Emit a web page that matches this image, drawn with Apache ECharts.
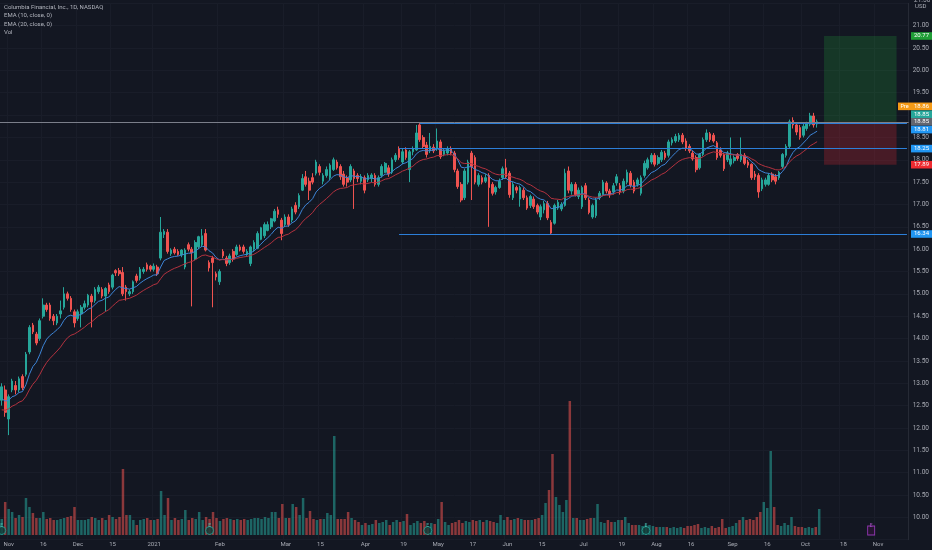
<!DOCTYPE html>
<html>
<head>
<meta charset="utf-8">
<script src="https://cdn.jsdelivr.net/npm/echarts@6/dist/echarts.min.js"></script>
<style>
html, body { margin: 0; padding: 0; background: #131722; }
#chart { width: 932px; height: 550px; }
</style>
</head>
<body>
<div id="chart"></div>
<script>
// CLBK daily bars, [open, close, low, high]; first bar = 29 Oct 2020
var candles = [
  [12.62,12.92,12.5,13.0],[12.85,12.35,12.25,12.95],[12.2,12.7,11.84,12.75],[12.85,13.05,12.8,13.1],[12.95,12.85,12.75,13.05],[12.85,13.1,12.8,13.15],
  [13.15,12.9,12.85,13.2],[13.2,13.65,13.15,13.7],[13.7,14.25,13.65,14.3],[14.3,14.15,14.1,14.35],[14.1,13.9,13.85,14.15],[14.0,14.4,13.95,14.45],
  [14.5,14.75,14.45,14.9],[14.75,14.65,14.6,14.8],[14.75,14.45,14.4,14.8],[14.5,14.4,14.3,14.55],[14.35,14.5,14.3,14.55],[14.55,14.62,14.45,14.85],
  [14.7,15.0,14.65,15.15],[15.0,14.9,14.85,15.05],[14.9,14.65,14.6,14.95],[14.6,14.35,14.25,14.65],[14.45,14.6,14.4,14.65],[14.55,14.7,14.25,14.75],
  [14.7,14.78,14.65,14.85],[14.75,14.97,14.7,15.0],[14.95,14.82,14.25,15.0],[14.85,15.1,14.8,15.15],[15.05,15.15,15.0,15.2],[15.1,14.95,14.9,15.15],
  [14.95,15.12,14.6,15.15],[15.2,15.05,15.0,15.25],[15.15,15.42,15.1,15.45],[15.52,15.47,15.4,15.55],[15.52,15.45,15.4,15.58],[15.48,15.0,14.95,15.6],
  [15.15,15.05,14.85,15.2],[15.0,15.05,14.95,15.1],[15.05,15.27,15.0,15.3],[15.4,15.3,15.25,15.45],[15.35,15.55,15.3,15.6],[15.5,15.55,15.45,15.6],
  [15.65,15.55,15.5,15.7],[15.62,15.55,15.5,15.65],[15.55,15.62,15.5,15.68],[15.6,15.45,15.4,15.65],[15.8,16.38,15.75,16.72],[16.33,16.4,16.25,16.45],
  [16.38,15.95,15.9,16.45],[15.9,15.98,15.85,16.02],[16.0,15.92,15.88,16.05],[15.95,15.88,15.85,16.0],[15.87,15.98,15.82,16.0],[15.6,15.98,15.55,16.02],
  [16.1,16.0,15.95,16.15],[16.0,15.92,14.72,16.05],[15.78,16.15,15.75,16.2],[16.05,16.28,16.0,16.3],[16.1,16.3,16.05,16.45],[16.35,15.98,15.95,16.45],
  [15.7,15.58,15.5,15.75],[15.8,15.7,14.7,15.85],[15.45,15.38,15.3,15.5],[15.27,15.5,15.2,15.55],[15.95,15.85,15.8,16.0],[15.8,15.68,15.62,15.85],
  [15.7,15.85,15.65,15.9],[15.95,15.78,15.72,16.0],[15.88,16.05,15.85,16.1],[16.05,15.98,15.95,16.1],[16.05,15.95,15.9,16.1],[15.88,15.95,15.85,16.0],
  [15.68,16.05,15.62,16.08],[16.0,16.15,15.95,16.2],[16.02,16.35,16.0,16.4],[16.22,16.48,16.2,16.5],[16.3,16.55,16.25,16.6],[16.42,16.55,16.4,16.62],
  [16.5,16.68,16.45,16.7],[16.63,16.85,16.6,16.9],[16.88,16.78,16.7,16.95],[16.65,16.35,16.2,16.7],[16.55,16.72,16.5,16.78],[16.72,16.55,16.5,16.78],
  [16.65,16.9,16.6,16.95],[16.98,16.83,16.78,17.05],[16.95,17.2,16.9,17.25],[17.32,17.58,17.3,17.68],[17.62,17.45,17.4,17.75],[17.52,17.32,17.1,17.6],
  [17.6,17.5,17.45,17.7],[17.7,17.95,17.65,18.0],[17.85,17.72,17.65,17.9],[17.52,17.65,17.45,17.7],[17.65,17.78,17.6,17.85],[17.6,17.88,17.55,17.92],
  [17.78,18.0,17.75,18.05],[17.95,17.82,17.78,18.0],[17.85,17.62,17.55,17.9],[17.68,17.45,17.4,17.75],[17.6,17.5,17.4,17.65],[17.55,17.85,17.5,17.9],
  [17.75,17.58,16.9,17.8],[17.65,17.58,17.5,17.7],[17.52,17.62,17.45,17.68],[17.6,17.32,17.25,17.65],[17.55,17.65,17.5,17.7],[17.58,17.66,17.5,17.7],
  [17.65,17.45,17.4,17.7],[17.45,17.6,17.4,17.65],[17.65,17.85,17.6,17.9],[17.72,17.92,17.7,17.95],[17.82,17.68,17.62,17.88],[17.72,18.0,17.68,18.05],
  [18.0,18.1,17.95,18.15],[18.25,18.05,18.0,18.3],[17.95,18.18,17.9,18.25],[18.22,18.05,18.0,18.28],[17.78,18.18,17.5,18.22],[18.18,18.25,18.1,18.3],
  [18.22,18.6,18.2,18.78],[18.78,18.45,18.4,18.82],[18.5,18.3,18.25,18.55],[18.33,18.12,18.05,18.4],[18.2,18.3,18.15,18.6],[18.28,18.2,18.15,18.35],
  [18.25,18.42,18.2,18.7],[18.4,18.07,18.02,18.45],[18.12,18.2,18.08,18.25],[18.15,18.25,18.1,18.3],[18.25,18.15,18.1,18.3],[18.15,17.78,17.72,18.2],
  [17.75,17.4,17.35,17.8],[17.45,17.1,17.05,17.5],[17.15,17.75,17.1,17.8],[17.5,17.95,17.45,18.0],[18.15,17.85,17.1,18.2],[18.05,17.5,17.45,18.1],
  [17.45,17.65,17.4,17.7],[17.6,17.5,17.45,17.65],[17.52,17.6,17.48,17.68],[17.65,17.38,16.5,17.7],[17.45,17.25,17.2,17.5],[17.28,17.38,17.22,17.42],
  [17.38,17.52,17.35,17.58],[17.6,17.8,17.55,17.85],[17.82,17.62,17.58,18.02],[17.7,17.22,17.15,17.75],[17.15,17.45,17.1,17.5],[17.38,17.32,17.25,17.42],
  [17.12,17.38,16.95,17.42],[17.32,17.15,17.1,17.38],[17.15,16.92,16.88,17.2],[16.98,17.18,16.92,17.22],[17.12,16.95,16.9,17.18],[16.98,16.83,16.78,17.02],
  [16.72,16.95,16.65,17.0],[16.88,17.02,16.8,17.08],[17.02,16.7,16.65,17.08],[16.6,16.36,16.32,16.65],[16.58,16.98,16.55,17.02],[16.92,17.05,16.88,17.1],
  [16.9,17.0,16.85,17.05],[16.98,17.7,16.95,17.8],[17.75,17.32,17.25,17.85],[17.3,17.45,17.22,17.5],[17.45,17.22,17.18,17.5],[17.18,17.32,17.12,17.38],
  [16.95,17.38,16.9,17.42],[17.42,17.15,17.1,17.48],[17.1,16.82,16.78,17.15],[16.72,16.98,16.68,17.02],[16.75,17.1,16.7,17.15],[17.15,17.25,17.1,17.3],
  [17.22,17.5,17.18,17.55],[17.48,17.3,17.25,17.52],[17.3,17.22,17.15,17.35],[17.28,17.42,17.22,17.48],[17.48,17.62,17.42,17.68],[17.42,17.28,17.22,17.48],
  [17.3,17.52,17.25,17.58],[17.5,17.72,17.45,17.78],[17.7,17.43,17.38,17.75],[17.5,17.3,17.25,17.55],[17.45,17.55,17.4,17.6],[17.25,17.6,17.2,17.65],
  [17.65,17.92,17.6,17.98],[17.82,18.0,17.78,18.05],[17.95,18.1,17.9,18.15],[18.1,17.9,17.85,18.15],[17.92,18.05,17.88,18.1],[18.0,18.17,17.95,18.22],
  [18.15,18.05,18.0,18.2],[18.1,18.4,18.05,18.45],[18.38,18.45,18.32,18.5],[18.42,18.52,18.38,18.58],[18.45,18.55,18.4,18.6],[18.55,18.4,18.35,18.6],
  [18.42,18.25,18.2,18.48],[18.3,18.2,18.15,18.35],[18.15,18.02,17.98,18.2],[18.05,17.78,17.72,18.1],[17.82,18.12,17.78,18.15],[18.12,18.45,18.08,18.5],
  [18.45,18.6,18.4,18.68],[18.58,18.45,18.4,18.62],[18.55,18.42,18.38,18.6],[18.38,18.05,18.0,18.42],[18.22,18.1,18.05,18.28],[18.12,17.8,17.75,18.15],
  [18.0,18.15,17.95,18.2],[17.9,18.02,17.85,18.5],[17.98,18.05,17.92,18.1],[18.12,18.03,17.98,18.15],[18.0,18.12,17.95,18.5],[18.1,17.92,17.88,18.15],
  [17.95,17.88,17.82,18.0],[17.9,17.6,17.55,17.92],[17.68,17.62,17.55,17.75],[17.65,17.28,17.15,17.7],[17.35,17.55,17.3,17.6],[17.45,17.55,17.4,17.6],
  [17.45,17.65,17.42,17.7],[17.68,17.55,17.5,17.72],[17.62,17.52,17.45,17.68],[17.6,17.72,17.55,17.75],[17.85,18.12,17.8,18.15],[18.1,18.3,18.05,18.35],
  [18.3,18.85,18.25,18.9],[18.88,18.78,18.7,18.95],[18.78,18.62,18.55,18.82],[18.72,18.5,18.45,18.78],[18.55,18.75,18.5,18.8],[18.7,18.82,18.65,18.85],
  [18.8,18.98,18.75,19.05],[18.98,18.78,18.72,19.05],[18.8,18.85,18.72,18.9]
];

// volume per bar, thousands of shares
var volumes = [
  320,660,520,460,340,400,360,740,560,440,340,340,460,320,340,300,300,320,340,360,
  380,560,300,300,300,320,360,340,300,340,300,400,360,320,360,1320,400,400,300,200,
  300,320,340,300,300,320,880,400,740,300,340,300,320,500,300,340,320,460,300,360,
  320,460,340,280,320,340,320,300,320,300,320,300,320,340,340,320,360,340,460,460,
  340,620,340,340,620,560,400,740,340,480,320,300,320,320,440,400,1980,320,320,320,
  460,340,300,260,200,240,200,220,300,240,260,300,200,260,300,260,280,420,200,240,
  280,240,280,140,240,220,320,660,260,200,240,260,300,240,280,260,300,280,300,260,
  300,280,260,240,400,300,360,300,320,340,320,300,300,300,320,340,400,640,900,1620,
  760,600,460,700,2680,340,340,300,300,320,340,340,620,260,240,300,260,260,300,300,
  360,240,200,200,200,180,200,200,180,160,160,160,160,140,160,140,160,140,180,180,
  200,220,140,160,140,180,140,160,320,140,160,180,240,300,360,300,320,300,360,460,
  660,540,1680,560,200,180,240,200,360,180,160,160,140,160,140,160,520
];

var slotCount = 263;               // bars on the time scale, future days included
var tickIdx  = [2, 12, 22, 32, 44, 63, 82, 92, 105, 116, 126, 136, 146, 156, 168, 179, 189, 199, 211, 221, 232, 243, 253];
var tickText = ['Nov', '16', 'Dec', '15', '2021', 'Feb', 'Mar', '15', 'Apr', '19', 'May', '17', 'Jun', '15', 'Jul', '19', 'Aug', '16', 'Sep', '16', 'Oct', '18', 'Nov'];
var pastEarnings = [0, 60, 123, 186];
var nextEarnings = [251];

var ema10Seed = 12.6;
var ema20Seed = 12.35;

var lastLine = 18.85;
var levels = [18.81, 18.25, 16.34];
var levelFrom = [121, 115, 115];
var posFrom = 238, posTo = 259;
var target = 20.77, entry = 18.85, stop = 17.89;
var tagPrices = [20.77, 18.86, 18.85, 18.85, 18.81, 18.25, 17.89, 16.34];

var categories = [];
for (var i = 0; i < slotCount; i++) categories.push(String(i));
var tickMap = {};
tickIdx.forEach(function (k, j) { tickMap[k] = tickText[j]; });

function ema(seed, n) {
  var a = 2 / (n + 1), prev = seed, out = [];
  candles.forEach(function (c) {
    prev = c[1] * a + prev * (1 - a);
    out.push(+prev.toFixed(3));
  });
  return out;
}

var UP = '#26a69a', DOWN = '#ef5350';
var txt = '#a9acb5';
var font = 'Roboto';

var chart = echarts.init(document.getElementById('chart'));
var option = {
  backgroundColor: '#131722',
  animation: false,
  grid: [
    { left: 0, right: 21, top: 3.35, bottom: 10.3 },
    { left: 0, right: 21, top: 385, bottom: 15 }
  ],
  xAxis: [
    {
      type: 'category', gridIndex: 0, data: categories, boundaryGap: true,
      axisLine: { show: false }, axisTick: { show: false }, axisLabel: { show: false },
      splitLine: {
        show: true,
        interval: function (i) { return tickMap[i] !== undefined; },
        lineStyle: { color: '#191d29', width: 1 }
      }
    },
    {
      type: 'category', gridIndex: 1, data: categories, boundaryGap: true,
      axisLine: { show: false }, axisTick: { show: false },
      axisLabel: {
        interval: function (i) { return tickMap[i] !== undefined; },
        formatter: function (v, i) { return tickMap[i] || ''; },
        color: txt, fontSize: 6, fontFamily: font, margin: 6
      }
    }
  ],
  yAxis: [
    {
      type: 'value', gridIndex: 0, position: 'right', min: 9.5, max: 21.5, interval: 0.5,
      axisLine: { show: true, lineStyle: { color: '#262a35' } },
      axisTick: { show: false },
      axisLabel: {
        formatter: function (v) { return v.toFixed(2); },
        color: txt, fontSize: 6.5, fontFamily: font, margin: 4,
        showMinLabel: false, showMaxLabel: false
      },
      splitLine: { lineStyle: { color: '#191d29', width: 1 } }
    },
    { type: 'value', gridIndex: 1, min: 0, max: 3000, show: false }
  ],
  series: [
    {
      name: 'Vol', type: 'bar', xAxisIndex: 1, yAxisIndex: 1, barWidth: '72%',
      data: volumes.map(function (v, k) {
        var up = candles[k][1] >= candles[k][0];
        return { value: v, itemStyle: { color: up ? 'rgba(38,166,154,0.55)' : 'rgba(239,83,80,0.55)' } };
      }),
      silent: true, z: 1
    },
    {
      name: 'CLBK', type: 'candlestick', xAxisIndex: 0, yAxisIndex: 0, barWidth: '62%',
      data: candles,
      itemStyle: { color: UP, color0: DOWN, borderColor: UP, borderColor0: DOWN, borderWidth: 1 },
      z: 3,
      markLine: {
        silent: true, symbol: ['none', 'none'], label: { show: false }, animation: false,
        data: [
          { yAxis: lastLine, lineStyle: { color: '#7b7f8a', width: 1, type: 'solid' } }
        ].concat(levels.map(function (p, j) {
          var ls = { color: '#2c7fd9', width: 1, type: 'solid' };
          return [{ coord: [levelFrom[j], p], lineStyle: ls }, { coord: [slotCount - 1, p], lineStyle: ls }];
        }))
      },
      markArea: {
        silent: true,
        data: [
          [{ coord: [posFrom, target], itemStyle: { color: 'rgba(34,160,60,0.24)' } }, { coord: [posTo, entry] }],
          [{ coord: [posFrom, entry], itemStyle: { color: 'rgba(220,40,50,0.26)' } }, { coord: [posTo, stop] }]
        ]
      }
    },
    {
      name: 'EMA 10', type: 'line', xAxisIndex: 0, yAxisIndex: 0, data: ema(ema10Seed, 10),
      showSymbol: false, smooth: false, lineStyle: { color: '#3d84d6', width: 1 }, z: 4, silent: true
    },
    {
      name: 'EMA 20', type: 'line', xAxisIndex: 0, yAxisIndex: 0, data: ema(ema20Seed, 20),
      showSymbol: false, smooth: false, lineStyle: { color: '#b3323f', width: 1 }, z: 4, silent: true
    },
    {
      name: 'Earnings', type: 'scatter', xAxisIndex: 1, yAxisIndex: 1, clip: false, silent: true,
      data: pastEarnings.map(function (k) { return [k, 0]; }),
      symbol: 'circle', symbolSize: 8, symbolOffset: [0, -4.5],
      itemStyle: { color: '#14403c', borderColor: '#26a69a', borderWidth: 1 },
      label: { show: true, position: 'inside', formatter: 'E', color: '#4fd1c0', fontSize: 5, fontFamily: font, offset: [0, -4.5] },
      z: 5
    },
    {
      name: 'Next earnings', type: 'scatter', xAxisIndex: 1, yAxisIndex: 1, clip: false, silent: true,
      data: nextEarnings.map(function (k) { return [k, 0]; }),
      symbol: 'rect', symbolSize: [7, 9], symbolOffset: [0, -4.5],
      itemStyle: { color: '#2a1535', borderColor: '#b03fd6', borderWidth: 1 },
      label: { show: true, position: 'inside', formatter: 'E', color: '#c15ce0', fontSize: 5, fontFamily: font, offset: [0, -4.5] },
      z: 5
    }
  ]
};
chart.setOption(option);

// price tags on the right scale (TradingView pushes overlapping ones apart)
var tagColors = ['#1f9e36', '#f59a16', '#26a69a', '#62656f', '#2196f3', '#2196f3', '#ef2a30', '#2196f3'];
var tagShift  = [0, -15, -7.6, 0, 6, 0, 0, 0];
var g = [];
tagPrices.forEach(function (p, j) {
  var y = chart.convertToPixel({ yAxisIndex: 0 }, p) + tagShift[j];
  g.push({ type: 'rect', shape: { x: 911, y: y - 3.8, width: 21, height: 7.6 }, style: { fill: tagColors[j] }, z: 20 });
  g.push({ type: 'text', x: 921.5, y: y, style: { text: p.toFixed(2), fill: '#ffffff', font: '6px ' + font, textAlign: 'center', textVerticalAlign: 'middle' }, z: 21 });
  if (j === 1) {
    g.push({ type: 'rect', shape: { x: 898, y: y - 3.8, width: 13, height: 7.6 }, style: { fill: tagColors[j] }, z: 20 });
    g.push({ type: 'text', x: 904.5, y: y, style: { text: 'Pre', fill: '#ffffff', font: '5.5px ' + font, textAlign: 'center', textVerticalAlign: 'middle' }, z: 21 });
  }
});
g.push({ type: 'text', x: 914, y: 0.5, style: { text: '21.50', fill: txt, font: '6.5px ' + font, textVerticalAlign: 'middle' }, z: 21 });
g.push({ type: 'text', x: 915, y: 6.5, style: { text: 'USD', fill: txt, font: '6px ' + font, textVerticalAlign: 'middle' }, z: 21 });
var legendLines = ['Columbia Financial, Inc., 1D, NASDAQ', 'EMA (10, close, 0)', 'EMA (20, close, 0)', 'Vol'];
legendLines.forEach(function (s, j) {
  g.push({ type: 'text', x: 4, y: 7.5 + j * 8.3, style: { text: s, fill: '#b2b5be', font: '6px ' + font, textVerticalAlign: 'middle' }, z: 21 });
});
chart.setOption({ graphic: g });
</script>
</body>
</html>
